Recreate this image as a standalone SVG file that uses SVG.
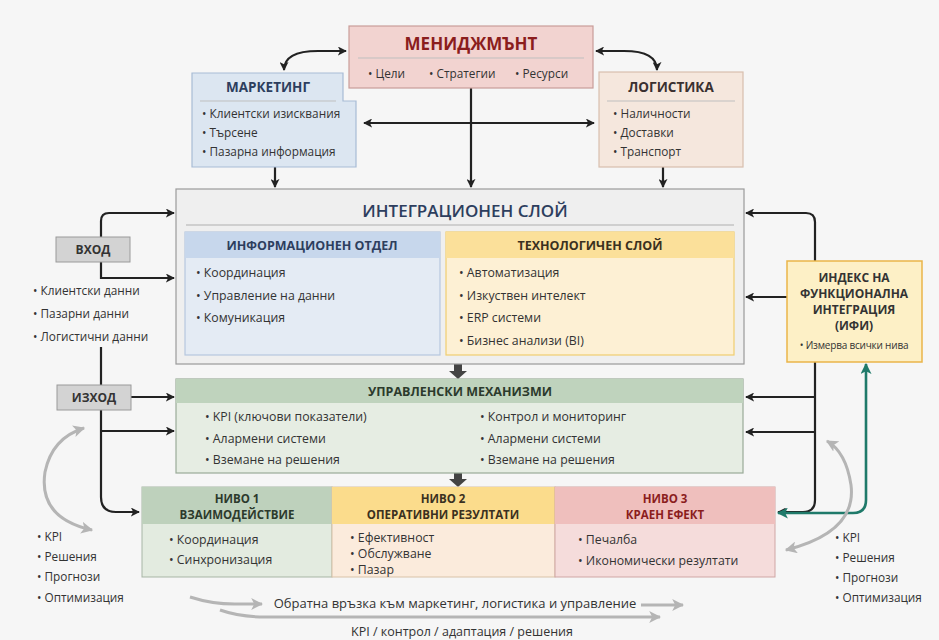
<svg xmlns="http://www.w3.org/2000/svg" width="939" height="640" viewBox="0 0 939 640">
<defs>
<marker id="ab" viewBox="0 0 10 10" refX="9" refY="5" markerWidth="9" markerHeight="9" markerUnits="userSpaceOnUse" orient="auto-start-reverse"><path d="M0,0 L10,5 L0,10 L2.5,5 Z" fill="#222"/></marker>
<marker id="ag" viewBox="0 0 10 10" refX="9" refY="5" markerWidth="12" markerHeight="12" markerUnits="userSpaceOnUse" orient="auto-start-reverse"><path d="M0,0 L10,5 L0,10 L2.5,5 Z" fill="#b5b5b5"/></marker>
<marker id="at" viewBox="0 0 10 10" refX="9" refY="5" markerWidth="11" markerHeight="11" markerUnits="userSpaceOnUse" orient="auto-start-reverse"><path d="M0,0 L10,5 L0,10 L2.5,5 Z" fill="#1f7a6a"/></marker>
</defs>
<style>
text{font-family:"Open Sans","Noto Sans","DejaVu Sans",sans-serif;fill:#333;}
.b{font-size:12.3px;}
.s{font-size:11.8px;}
.h{font-weight:bold;text-anchor:middle;}
.ln{fill:none;stroke:#222;stroke-width:2.2;}
.gr{fill:none;stroke:#b5b5b5;stroke-width:3;}
.sep{stroke:#bfbfbf;stroke-width:1;}
</style>
<rect x="0" y="0" width="939" height="640" fill="#f6f6f6"/>

<g id="connectors">
<path class="ln" d="M346,51 H318 Q284,51 284,70" marker-start="url(#ab)" marker-end="url(#ab)"/>
<path class="ln" d="M596,51 H624 Q657,51 657,70" marker-start="url(#ab)" marker-end="url(#ab)"/>
<path class="ln" d="M364,123 H594" marker-start="url(#ab)" marker-end="url(#ab)"/>
<path class="ln" d="M471,88 V187" marker-end="url(#ab)"/>
<path class="ln" d="M275,167 V187" marker-end="url(#ab)"/>
<path class="ln" d="M663,167 V187" marker-end="url(#ab)"/>
<path class="ln" d="M101,237 V221 Q101,213 109,213 H174" marker-end="url(#ab)"/>
<path class="ln" d="M101,262 V278 H174" marker-end="url(#ab)"/>
<path class="ln" d="M101,347 V385"/>
<path class="ln" d="M131,397 H174" marker-end="url(#ab)"/>
<path class="ln" d="M101,410 V497 Q101,512 116,512 H139" marker-end="url(#ab)"/>
<path class="ln" d="M101,431 H174" marker-end="url(#ab)"/>
<path class="ln" d="M815,261 V222 Q815,213 806,213 H746" marker-end="url(#ab)"/>
<path class="ln" d="M787,297 H746" marker-end="url(#ab)"/>
<path class="ln" d="M815,362 V500 Q815,512 803,512 H778" marker-end="url(#ab)"/>
<path class="ln" d="M815,397 H746" marker-end="url(#ab)"/>
<path class="ln" d="M815,432 H746" marker-end="url(#ab)"/>
<path d="M866,364 V500 Q866,513 853,513 H778" fill="none" stroke="#1f7a6a" stroke-width="2.6" marker-start="url(#at)" marker-end="url(#at)"/>
<path d="M454,364 H462 V371 H467 L458,379 L449,371 H454 Z" fill="#444"/>
<path d="M454,473 H462 V479 H467 L458,487 L449,479 H454 Z" fill="#444"/>
<path class="gr" d="M92,530 Q38,518 45,472 Q52,438 84,428" marker-start="url(#ag)" marker-end="url(#ag)"/>
<path class="gr" d="M786,550 Q857,532 851,485 Q846,452 827,441" marker-start="url(#ag)" marker-end="url(#ag)"/>
<path class="gr" d="M190,597 Q215,605 240,604 H262" stroke-width="2.5" marker-end="url(#ag)"/>
<path class="gr" d="M641,605 H683" stroke-width="2.5" marker-end="url(#ag)"/>
<path class="gr" d="M220,610 Q240,617 265,617 H660" stroke-width="2.5" marker-end="url(#ag)"/>
</g>

<g id="management">
<rect x="349" y="26" width="244" height="62" fill="#f2d3d0" stroke="#c99d99" stroke-width="1.2"/>
<text x="471" y="50" class="h" font-size="17" style="fill:#8b1d1d">МЕНИДЖМЪНТ</text>
<line x1="358" y1="58" x2="584" y2="58" class="sep"/>
<text x="368" y="78" class="s">• Цели</text>
<text x="429" y="78" class="s">• Стратегии</text>
<text x="515" y="78" class="s">• Ресурси</text>
</g>

<g id="marketing">
<path d="M192,73 H343 V101 H356 V167 H192 Z" fill="#dce6f1" stroke="#a8bcd5" stroke-width="1.2"/>
<text x="268" y="92" class="h" font-size="13.5" style="fill:#2d3e5e">МАРКЕТИНГ</text>
<line x1="200" y1="101" x2="336" y2="101" class="sep"/>
<text x="202" y="118" class="s">• Клиентски изисквания</text>
<text x="202" y="137" class="s">• Търсене</text>
<text x="202" y="156" class="s">• Пазарна информация</text>
</g>

<g id="logistics">
<rect x="599" y="72" width="144" height="95" fill="#f5e7dd" stroke="#d8bfae" stroke-width="1.2"/>
<text x="671" y="92" class="h" font-size="13.5" style="fill:#3a3030">ЛОГИСТИКА</text>
<line x1="607" y1="101" x2="735" y2="101" class="sep"/>
<text x="613" y="118" class="s">• Наличности</text>
<text x="613" y="137" class="s">• Доставки</text>
<text x="613" y="156" class="s">• Транспорт</text>
</g>

<g id="integration">
<rect x="176" y="189" width="568" height="175" fill="#efefef" stroke="#9a9a9a" stroke-width="1.2"/>
<text x="465" y="217" font-size="17" text-anchor="middle" style="font-weight:600;fill:#2d3e5e">ИНТЕГРАЦИОНЕН СЛОЙ</text>
<line x1="186" y1="225" x2="734" y2="225" stroke="#c4c4c4" stroke-width="1.5"/>
</g>

<g id="info-dept">
<rect x="185" y="232" width="255" height="123" fill="#e4ebf4" stroke="#b6c7de" stroke-width="1.2"/>
<rect x="185" y="232" width="255" height="26" fill="#c7d7ec"/>
<text x="312" y="250" class="h" font-size="12.5" style="fill:#2d3e5e">ИНФОРМАЦИОНЕН ОТДЕЛ</text>
<text x="196" y="277" class="b">• Координация</text>
<text x="196" y="300" class="b">• Управление на данни</text>
<text x="196" y="322" class="b">• Комуникация</text>
</g>

<g id="tech-layer">
<rect x="446" y="232" width="288" height="123" fill="#fdf0d4" stroke="#f0cd6f" stroke-width="1.2"/>
<rect x="446" y="232" width="288" height="26" fill="#fbe09a"/>
<text x="590" y="250" class="h" font-size="12.5" style="fill:#3a3020">ТЕХНОЛОГИЧЕН СЛОЙ</text>
<text x="459" y="277" class="b">• Автоматизация</text>
<text x="459" y="300" class="b">• Изкуствен интелект</text>
<text x="459" y="322" class="b">• ERP системи</text>
<text x="459" y="345" class="b">• Бизнес анализи (BI)</text>
</g>

<g id="input">
<rect x="56" y="237" width="74" height="25" fill="#d3d3d3" stroke="#9a9a9a"/>
<text x="93" y="254" class="h" font-size="12" style="fill:#333">ВХОД</text>
<text x="33" y="295" class="s">• Клиентски данни</text>
<text x="33" y="318" class="s">• Пазарни данни</text>
<text x="33" y="341" class="s">• Логистични данни</text>
</g>

<g id="output">
<rect x="57" y="385" width="74" height="25" fill="#d3d3d3" stroke="#9a9a9a"/>
<text x="94" y="402" class="h" font-size="12" style="fill:#333">ИЗХОД</text>
</g>

<g id="ifi">
<rect x="787" y="261" width="135" height="101" fill="#fdf0c6" stroke="#eab54a" stroke-width="1.5"/>
<text x="854" y="282" class="h" font-size="12" style="fill:#333">ИНДЕКС НА</text>
<text x="854" y="298" class="h" font-size="12" style="fill:#333">ФУНКЦИОНАЛНА</text>
<text x="854" y="314" class="h" font-size="12" style="fill:#333">ИНТЕГРАЦИЯ</text>
<text x="854" y="330" class="h" font-size="12" style="fill:#333">(ИФИ)</text>
<text x="854" y="349" font-size="10" text-anchor="middle" style="letter-spacing:-0.2px">• Измерва всички нива</text>
</g>

<g id="mechanisms">
<rect x="176" y="379" width="567" height="94" fill="#e6ede3" stroke="#9aab98" stroke-width="1.2"/>
<rect x="176" y="379" width="567" height="24" fill="#bfd3bd"/>
<text x="460" y="396" class="h" font-size="12.5" style="fill:#2c3a2c">УПРАВЛЕНСКИ МЕХАНИЗМИ</text>
<text x="205" y="421" class="b">• KPI (ключови показатели)</text>
<text x="205" y="443" class="b">• Алармени системи</text>
<text x="205" y="464" class="b">• Вземане на решения</text>
<text x="480" y="421" class="b">• Контрол и мониторинг</text>
<text x="480" y="443" class="b">• Алармени системи</text>
<text x="480" y="464" class="b">• Вземане на решения</text>
</g>

<g id="level1">
<rect x="142" y="487" width="190" height="90" fill="#e3ebe0" stroke="#a7b5a5" stroke-width="1"/>
<rect x="142" y="487" width="190" height="37" fill="#bed1bc"/>
<text x="237" y="503" class="h" font-size="11.5" style="fill:#2c3a2c">НИВО 1</text>
<text x="237" y="519" class="h" font-size="11.5" style="fill:#2c3a2c">ВЗАИМОДЕЙСТВИЕ</text>
<text x="169" y="544" class="b">• Координация</text>
<text x="169" y="564" class="b">• Синхронизация</text>
</g>

<g id="level2">
<rect x="332" y="487" width="223" height="90" fill="#fbebdc" stroke="#d8c2a8" stroke-width="1"/>
<rect x="332" y="487" width="223" height="37" fill="#fbdc8c"/>
<text x="443" y="503" class="h" font-size="11.5" style="fill:#3a3020">НИВО 2</text>
<text x="443" y="519" class="h" font-size="11.5" style="fill:#3a3020">ОПЕРАТИВНИ РЕЗУЛТАТИ</text>
<text x="350" y="542" class="b">• Ефективност</text>
<text x="350" y="558" class="b">• Обслужване</text>
<text x="350" y="574" class="b">• Пазар</text>
</g>

<g id="level3">
<rect x="555" y="487" width="220" height="90" fill="#f5dcdb" stroke="#cfa6a4" stroke-width="1"/>
<rect x="555" y="487" width="220" height="37" fill="#efbfbd"/>
<text x="665" y="503" class="h" font-size="11.5" style="fill:#8b1d1d">НИВО 3</text>
<text x="665" y="519" class="h" font-size="11.5" style="fill:#8b1d1d">КРАЕН ЕФЕКТ</text>
<text x="578" y="544" class="b">• Печалба</text>
<text x="578" y="565" class="b">• Икономически резултати</text>
</g>

<g id="left-notes">
<text x="37" y="541" class="s">• KPI</text>
<text x="37" y="561" class="s">• Решения</text>
<text x="37" y="581" class="s">• Прогнози</text>
<text x="37" y="602" class="s">• Оптимизация</text>
</g>

<g id="right-notes">
<text x="835" y="542" class="s">• KPI</text>
<text x="835" y="562" class="s">• Решения</text>
<text x="835" y="582" class="s">• Прогнози</text>
<text x="835" y="602" class="s">• Оптимизация</text>
</g>

<g id="feedback">
<text x="455" y="608" font-size="13" text-anchor="middle">Обратна връзка към маркетинг, логистика и управление</text>
<text x="462" y="636" font-size="12.5" text-anchor="middle">KPI / контрол / адаптация / решения</text>
</g>
</svg>
